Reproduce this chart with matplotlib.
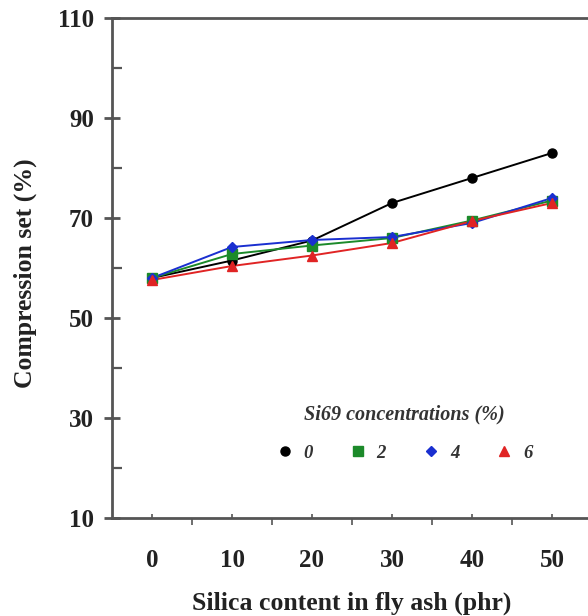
import matplotlib
matplotlib.use("Agg")
import matplotlib.pyplot as plt
from matplotlib.ticker import FixedLocator

# Silica content (phr) and compression set (%) for each Si69 level
silica = [0, 10, 20, 30, 40, 50]
si69_levels = ["0", "2", "4", "6"]
cs_0 = [58.0, 61.5, 65.5, 73.0, 78.0, 83.0]
cs_2 = [58.0, 62.8, 64.5, 66.0, 69.5, 73.5]
cs_4 = [58.0, 64.2, 65.6, 66.2, 69.0, 74.0]
cs_6 = [57.6, 60.4, 62.5, 65.0, 69.4, 73.0]

series = [cs_0, cs_2, cs_4, cs_6]
colors = ["#000000", "#1c8a2a", "#1a2fd0", "#e02424"]
markers = ["o", "s", "D", "^"]
msizes = [6.5, 6.5, 5.5, 7]

plt.rcParams["font.family"] = ["Liberation Serif", "DejaVu Serif"]
plt.rcParams["font.weight"] = "bold"

fig = plt.figure(figsize=(5.88, 6.16), dpi=100)
ax = fig.add_axes([112 / 588, 98 / 616, 480 / 588, 500 / 616])

handles = []
for vals, c, m, ms, lab in zip(series, colors, markers, msizes, si69_levels):
    ax.plot(silica, vals, color=c, lw=1.4, zorder=2)
    h, = ax.plot(silica, vals, linestyle="none", marker=m, ms=ms, color=c,
                 markeredgecolor=c, zorder=3, label=lab)
    handles.append(h)

ax.set_xlim(-5, 55)
ax.set_ylim(10, 110)

spine_col = "#555555"
for side in ["left", "bottom", "top"]:
    ax.spines[side].set_color(spine_col)
    ax.spines[side].set_linewidth(2)
ax.spines["right"].set_visible(False)

ax.yaxis.set_major_locator(FixedLocator([10, 30, 50, 70, 90, 110]))
ax.yaxis.set_minor_locator(FixedLocator([20, 40, 60, 80, 100]))
ax.xaxis.set_major_locator(FixedLocator(silica))
ax.xaxis.set_minor_locator(FixedLocator([5, 15, 25, 35, 45]))

ax.tick_params(axis="y", which="major", direction="inout", length=12, width=2,
               color=spine_col, labelsize=18, pad=7)
ax.tick_params(axis="y", which="minor", direction="in", length=7, width=1.6,
               color=spine_col)
ax.tick_params(axis="x", which="major", direction="in", length=3, width=1.2,
               color=spine_col, labelsize=18, pad=22)
ax.tick_params(axis="x", which="minor", direction="out", length=5, width=1.2,
               color=spine_col)
ax.tick_params(top=False, right=False, which="both")

for lbl in ax.get_xticklabels() + ax.get_yticklabels():
    lbl.set_fontweight("bold")
    lbl.set_color("#222222")

ax.set_xlabel("Silica content in fly ash (phr)", fontsize=18.5, fontweight="bold",
              color="#222222")
ax.set_ylabel("Compression set (%)", fontsize=18.5, fontweight="bold",
              color="#222222")
ax.xaxis.set_label_coords(0.5, -0.148)
ax.yaxis.set_label_coords(-0.157, 0.49)

leg = ax.legend(handles=handles, labels=si69_levels, ncol=4,
                title="Si69 concentrations (%)", loc="center",
                bbox_to_anchor=(0.61, 0.17), frameon=False,
                handlelength=0.8, handletextpad=0.6, columnspacing=2.0,
                prop={"style": "italic", "weight": "bold", "size": 13.5},
                title_fontproperties={"style": "italic", "weight": "bold", "size": 14.5})
leg.get_title().set_color("#333333")
for t in leg.get_texts():
    t.set_color("#333333")
leg._legend_box.sep = 15

fig.savefig("out.png", dpi=100)
